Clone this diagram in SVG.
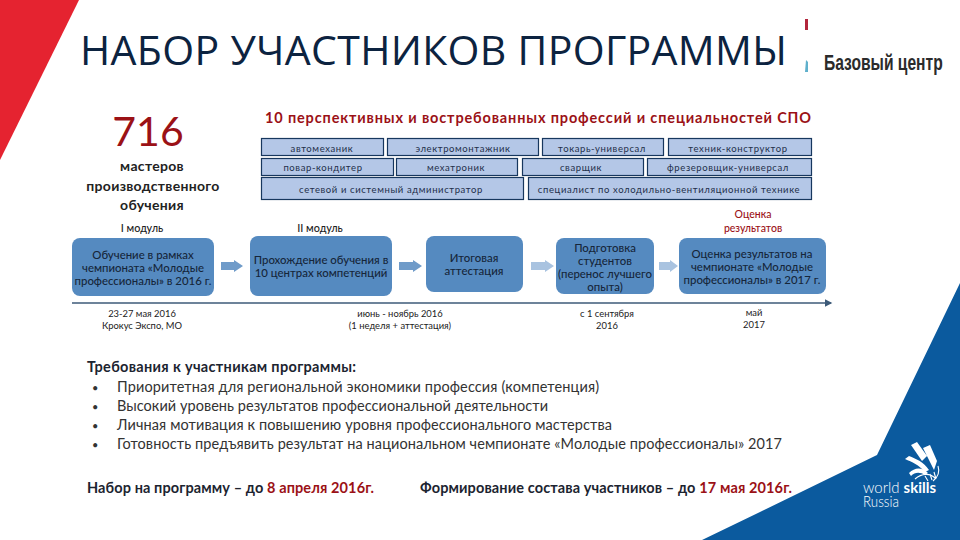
<svg xmlns="http://www.w3.org/2000/svg" width="960" height="540" viewBox="0 0 960 540">
<style>
text{font-family:"Lato","Liberation Sans",sans-serif;fill:#1f2a36}
.title{font-family:"Open Sans","Liberation Sans",sans-serif;font-size:41px;fill:#0c2340}
.red{fill:#9b1116}
.b{font-weight:700}
.m{text-anchor:middle}
.lbl{font-size:9.5px;text-anchor:middle;fill:#1f2f4a;letter-spacing:.6px}
.pill{fill:#b4c7e7;stroke:#17375e;stroke-width:1.2}
.box{fill:#558ac0}
.bt{font-size:11.4px;text-anchor:middle;fill:#16263a;font-weight:500}
.sm{font-size:9.4px;text-anchor:middle;fill:#222}
.req{font-size:14.5px;fill:#333}
.strong{font-size:14.5px;font-weight:700;fill:#1c2430}
.arrow{fill:#6f9bc9}
.arrow2{fill:#a9c3e0}
.mod{font-size:10.8px;font-weight:500;text-anchor:middle;fill:#222}
.stat{font-size:14px;font-weight:700;text-anchor:middle;fill:#222;letter-spacing:.3px}
.logo{fill:#fff}
</style>
<defs>
<marker id="tip" markerWidth="7" markerHeight="7" refX="5" refY="3" orient="auto"><path d="M0 0L6 3L0 6Z" fill="#3c5a78"/></marker>
</defs>
<g id="decor">
<polygon points="0,0 79,0 0,160" fill="#e52330"/>
<polygon points="960,283 877,455 760,512 702,540 960,540" fill="#0b5a9e"/>
<rect x="805" y="19" width="3" height="11" fill="#b2263c"/>
<polygon points="805,72 808,72 808,62 806,60" fill="#5fb0cc"/>
</g>
<text class="title" x="80" y="65" textLength="707">НАБОР УЧАСТНИКОВ ПРОГРАММЫ</text>
<text transform="translate(824,70) scale(.71,1)" font-size="22" font-weight="700" style="font-family:'Liberation Sans',sans-serif;fill:#2b2b2b">Базовый центр</text>
<g id="stat">
<text class="m red" x="148" y="146" font-size="41">716</text>
<text class="stat" x="152" y="171">мастеров</text>
<text class="stat" x="153" y="191">производственного</text>
<text class="stat" x="152" y="210">обучения</text>
</g>
<text class="b red" x="265" y="123" font-size="14.5" textLength="546">10 перспективных и востребованных профессий и специальностей СПО</text>
<g id="professions">
<g id="p1"><rect class="pill" x="261.5" y="138.5" width="122" height="17"/><text class="lbl" x="322" y="152">автомеханик</text></g>
<g id="p2"><rect class="pill" x="387.5" y="138.5" width="151" height="17"/><text class="lbl" x="463" y="152">электромонтажник</text></g>
<g id="p3"><rect class="pill" x="542.5" y="138.5" width="121" height="17"/><text class="lbl" x="602" y="152">токарь-универсал</text></g>
<g id="p4"><rect class="pill" x="668.5" y="138.5" width="143" height="17"/><text class="lbl" x="738" y="152">техник-конструктор</text></g>
<g id="p5"><rect class="pill" x="261.5" y="158.5" width="132" height="17"/><text class="lbl" x="323" y="171">повар-кондитер</text></g>
<g id="p6"><rect class="pill" x="396.5" y="158.5" width="121" height="17"/><text class="lbl" x="456" y="171">мехатроник</text></g>
<g id="p7"><rect class="pill" x="522.5" y="158.5" width="121" height="17"/><text class="lbl" x="581" y="171">сварщик</text></g>
<g id="p8"><rect class="pill" x="647.5" y="158.5" width="164" height="17"/><text class="lbl" x="728" y="171">фрезеровщик-универсал</text></g>
<g id="p9"><rect class="pill" x="261.5" y="177.5" width="262" height="22"/><text class="lbl" x="391" y="193">сетевой и системный администратор</text></g>
<g id="p10"><rect class="pill" x="528.5" y="177.5" width="283" height="22"/><text class="lbl" x="669" y="193" letter-spacing=".3">специалист по холодильно-вентиляционной технике</text></g>
</g>
<text class="mod" x="142" y="232">I модуль</text>
<text class="mod" x="320" y="232">II модуль</text>
<text class="m red" x="753" y="218" font-size="10.5" font-weight="500">Оценка</text>
<text class="m red" x="753" y="232" font-size="10.5" font-weight="500">результатов</text>
<g id="n1"><rect class="box" x="72" y="238" width="142" height="58" rx="8"/><text class="bt" x="143" y="259">Обучение в рамках</text><text class="bt" x="143" y="272">чемпионата «Молодые</text><text class="bt" x="143" y="285">профессионалы» в 2016 г.</text></g>
<g id="n2"><rect class="box" x="250" y="236" width="142" height="60" rx="8"/><text class="bt" x="321" y="264">Прохождение обучения в</text><text class="bt" x="321" y="277">10 центрах компетенций</text></g>
<g id="n3"><rect class="box" x="426" y="236" width="97" height="56" rx="8"/><text class="bt" x="474" y="262">Итоговая</text><text class="bt" x="474" y="275">аттестация</text></g>
<g id="n4"><rect class="box" x="556" y="238" width="98" height="56" rx="8"/><text class="bt" x="605" y="252">Подготовка</text><text class="bt" x="605" y="265">студентов</text><text class="bt" x="605" y="278">(перенос лучшего</text><text class="bt" x="605" y="291">опыта)</text></g>
<g id="n5"><rect class="box" x="679" y="238" width="147" height="56" rx="8"/><text class="bt" x="752" y="258">Оценка результатов на</text><text class="bt" x="752" y="271">чемпионате «Молодые</text><text class="bt" x="752" y="284">профессионалы» в 2017 г.</text></g>
<g id="connectors">
<polygon class="arrow" points="221,262 234,262 234,260 243,266 234,272 234,270 221,270"/>
<polygon class="arrow" points="399,262 413,262 413,260 422,266 413,272 413,270 399,270"/>
<polygon class="arrow2" points="531,262 545,262 545,260 554,266 545,272 545,270 531,270"/>
<polygon class="arrow2" points="659,262 670,262 670,260 678,266 670,272 670,270 659,270"/>
<line x1="72" y1="303" x2="831" y2="303" stroke="#3c5a78" stroke-width="1.3" marker-end="url(#tip)"/>
</g>
<g id="dates">
<text class="sm" x="142" y="317">23-27 мая 2016</text><text class="sm" x="142" y="329">Крокус Экспо, МО</text>
<text class="sm" x="400" y="317">июнь - ноябрь 2016</text><text class="sm" x="400" y="329">(1 неделя + аттестация)</text>
<text class="sm" x="607" y="317">с 1 сентября</text><text class="sm" x="607" y="329">2016</text>
<text class="sm" x="754" y="316">май</text><text class="sm" x="754" y="328">2017</text>
</g>
<g id="requirements">
<text class="strong" x="87" y="372" textLength="269">Требования к участникам программы:</text>
<text class="req" x="92" y="392" style="font-size:11px">•</text><text class="req" x="117" y="392" textLength="482">Приоритетная для региональной экономики профессия (компетенция)</text>
<text class="req" x="92" y="411" style="font-size:11px">•</text><text class="req" x="117" y="411" textLength="431">Высокий уровень результатов профессиональной деятельности</text>
<text class="req" x="92" y="430" style="font-size:11px">•</text><text class="req" x="117" y="430" textLength="495">Личная мотивация к повышению уровня профессионального мастерства</text>
<text class="req" x="92" y="449" style="font-size:11px">•</text><text class="req" x="117" y="449" textLength="665">Готовность предъявить результат на национальном чемпионате «Молодые профессионалы» 2017</text>
</g>
<text class="strong" x="87" y="493" textLength="287">Набор на программу – до <tspan class="red">8 апреля 2016г.</tspan></text>
<text class="strong" x="420" y="493" textLength="372">Формирование состава участников – до <tspan class="red">17 мая 2016г.</tspan></text>
<g id="logo">
<path class="logo" d="M911 445L917 442L927 456L922 461Z M923 448L930 445L937 461L934 470L929 460Z M905 459L909 456C916 459 923 461 929 470L925 472C919 465 912 462 905 459Z M909 473C915 467 922 467 928 473L925 475C920 472 915 472 911 476Z"/>
<path d="M915 479C922 473 930 473 935 478M925 476L928 481M930 474L932 480M934 472L936 479M938 466C940 472 938 477 933 481" fill="none" stroke="#fff" stroke-width="1.1"/>
<text x="863" y="493" font-size="15" style="fill:#fff;font-weight:300" textLength="73" lengthAdjust="spacingAndGlyphs">world <tspan style="fill:#fff;font-weight:700">skills</tspan></text>
<text x="863" y="507" font-size="15" style="fill:#fff;font-weight:300" textLength="36" lengthAdjust="spacingAndGlyphs">Russia</text>
</g>
</svg>
